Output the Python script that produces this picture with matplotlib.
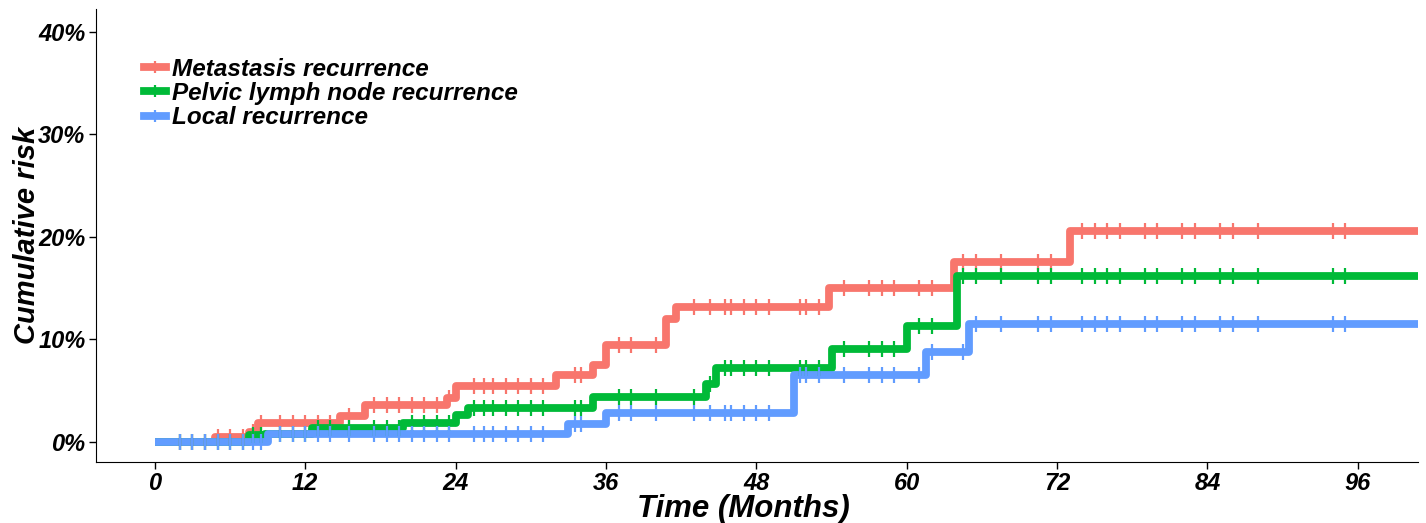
import matplotlib
matplotlib.use('Agg')
import matplotlib.pyplot as plt
from matplotlib.lines import Line2D
import matplotlib.ticker as ticker
import numpy as np

plt.rcParams['font.family'] = 'Liberation Sans'
plt.rcParams['font.weight'] = 'bold'
plt.rcParams['font.style'] = 'italic'
plt.rcParams['axes.labelweight'] = 'bold'

# step times (months) and cumulative risk (%)
meta_t = [0, 4.8, 7.5, 8.2, 14.8, 16.8, 23.3, 24, 32, 35, 36, 40.8, 41.6, 53.8, 63.8, 73]
meta_v = [0, 0.5, 1.0, 1.9, 2.5, 3.6, 4.3, 5.5, 6.5, 7.5, 9.5, 12.0, 13.2, 15.0, 17.5, 20.6]

pelvic_t = [0, 7.5, 8.8, 12.5, 19.8, 24, 25, 35, 44, 44.8, 54, 60, 64]
pelvic_v = [0, 0.7, 0.8, 1.4, 1.9, 2.6, 3.3, 4.4, 5.7, 7.2, 9.1, 11.3, 16.2]

local_t = [0, 9, 33, 36, 51, 61.5, 65]
local_v = [0, 0.8, 1.8, 2.8, 6.5, 8.8, 11.5]

# censoring times shared by the three curves
censor_t = [2, 3, 4, 5, 6, 7, 7.8, 8.5, 10, 11, 12, 13, 14, 15.5, 17.5, 18.5, 19.5,
            20.5, 21.5, 22.5, 23.5, 25.5, 26.3, 27, 28, 29, 30, 31, 33.5, 34, 37, 38,
            40, 43, 44.3, 45.5, 46, 47, 48, 49, 51.5, 52, 53, 55, 57, 58, 59, 61, 62,
            64.5, 65.5, 67.5, 70.5, 71.5, 74, 75, 76, 77, 79, 80, 82, 83, 85, 86, 88,
            94, 95]

labels = ['Metastasis recurrence', 'Pelvic lymph node recurrence', 'Local recurrence']
colors = ['#F8766D', '#00BA38', '#619CFF']
t_end = 101

fig = plt.figure(figsize=(14.26, 5.23), dpi=100)
ax = fig.add_axes([0.0673, 0.1166, 0.9271, 0.866])

series = [(meta_t, meta_v), (pelvic_t, pelvic_v), (local_t, local_v)]
for (t, v), color in zip(series, colors):
    t = np.array(t + [t_end])
    v = np.array(v + [v[-1]])
    ax.step(t, v, where='post', color=color, lw=5.6, solid_capstyle='butt', zorder=2)
    ct = np.array(censor_t)
    idx = np.searchsorted(t, ct, side='right') - 1
    ax.plot(ct, v[idx], ls='none', marker='|', color=color, ms=11, mew=1.6, zorder=3)

ax.set_xlim(-4.7, 100.8)
ax.set_ylim(-1.95, 42.2)
ax.set_xticks(np.arange(0, 97, 12))
ax.set_yticks(np.arange(0, 41, 10))
ax.yaxis.set_major_formatter(ticker.FuncFormatter(lambda y, p: f'{y:.0f}%'))
for s in ['top', 'right']:
    ax.spines[s].set_visible(False)
ax.tick_params(labelsize=17, length=5, width=1, pad=2.5)
ax.set_xlabel('Time (Months)', fontsize=22.5)
ax.xaxis.set_label_coords(0.49, -0.07)
ax.set_ylabel('Cumulative risk', fontsize=21, labelpad=-2)

handles = [Line2D([], [], color=c, lw=5.6, marker='|', ms=9, mew=1.6) for c in colors]
fig.legend(handles, labels, loc='upper left', bbox_to_anchor=(0.101, 0.89),
           frameon=False, fontsize=17.5, handlelength=0.9, handletextpad=0.25,
           labelspacing=0.06, numpoints=1, borderaxespad=0, borderpad=0)

fig.savefig('out.png', dpi=100)
